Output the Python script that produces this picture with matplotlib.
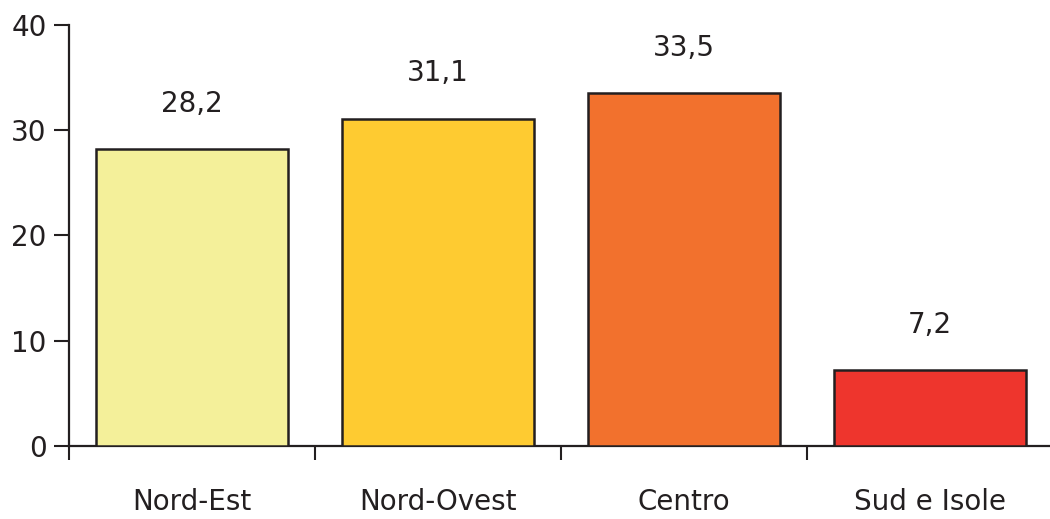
import numpy as np
import matplotlib.pyplot as plt

# Quota per ripartizione geografica
regioni = ['Nord-Est', 'Nord-Ovest', 'Centro', 'Sud e Isole']
valori = [28.2, 31.1, 33.5, 7.2]
colori = ['#F4F09A', '#FECB31', '#F2712D', '#EE352D']

fig = plt.figure(figsize=(10.5, 5.19), dpi=100)
ax = fig.add_axes([0.0657, 0.1407, 0.9343, 0.8111])

x = np.arange(len(regioni))
ax.bar(x, valori, width=0.78, color=colori, edgecolor='#231F20', linewidth=1.8, zorder=3)

# etichette con il valore sopra ogni barra (virgola decimale)
for xi, v in zip(x, valori):
    ax.text(xi, v + 3.0, f'{v:.1f}'.replace('.', ','), ha='center', va='bottom',
            fontsize=20, color='#231F20')

ax.set_ylim(0, 40)
ax.set_xlim(-0.5, 3.488)
ax.set_yticks([0, 10, 20, 30, 40])

# tacche dell'asse x ai confini tra categorie, nomi al centro
ax.set_xticks(np.arange(-0.5, 3.5, 1.0))
ax.set_xticklabels([])
ax.set_xticks(x, minor=True)
ax.set_xticklabels(regioni, minor=True)
ax.tick_params(axis='x', which='minor', length=0, pad=30, labelsize=20,
               labelcolor='#231F20')
ax.tick_params(axis='x', which='major', direction='out', length=10, width=1.5, color='#231F20')
ax.tick_params(axis='y', direction='out', length=11, width=1.5, labelsize=20, pad=5,
               color='#231F20', labelcolor='#231F20')

for side in ['top', 'right']:
    ax.spines[side].set_visible(False)
for side in ['left', 'bottom']:
    ax.spines[side].set_linewidth(1.6)
    ax.spines[side].set_color('#231F20')

fig.savefig('out.png', dpi=100)
